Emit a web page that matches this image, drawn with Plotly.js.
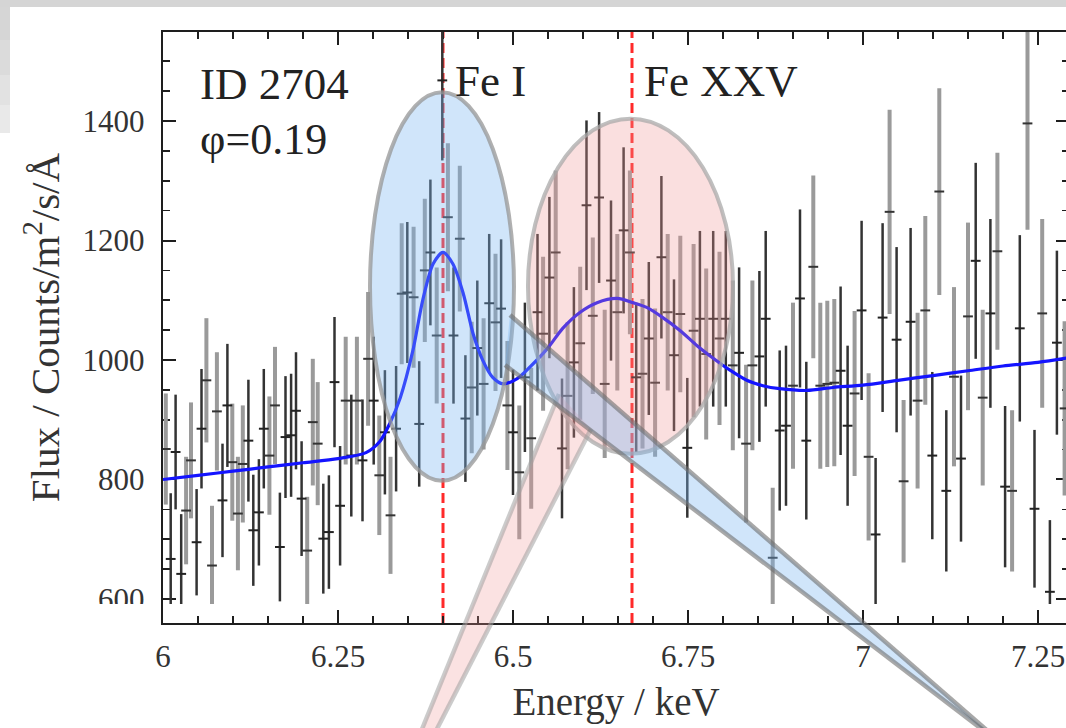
<!DOCTYPE html>
<html>
<head>
<meta charset="utf-8">
<script src="https://cdn.plot.ly/plotly-3.0.1.min.js"></script>
<style>
html,body{margin:0;padding:0;overflow:hidden;background:#fff;}
#chart{width:1070px;height:728px;}
</style>
</head>
<body>
<div id="chart"></div>
<script>
// ---- data ----
// black (thin, dark) error-bar series
const blackEnergy = [6.011,6.018,6.026,6.048,6.055,6.085,6.092,6.122,6.129,6.137,6.144,6.167,6.175,6.183,6.190,6.198,6.229,6.237,6.245,6.253,6.269,6.285,6.301,6.317,6.333,6.349,6.366,6.382,6.399,6.415,6.432,6.449,6.466,6.483,6.500,6.517,6.535,6.552,6.570,6.587,6.605,6.623,6.640,6.658,6.676,6.694,6.712,6.730,6.749,6.767,6.786,6.804,6.823,6.852,6.861,6.881,6.890,6.910,6.919,6.968,6.978,6.998,7.018,7.028,7.048,7.068,7.099,7.119,7.140,7.161,7.182,7.203,7.224,7.245,7.267,7.277];
const blackFlux   = [667,846,642,695,885,765,924,865,715,745,885,687,871,874,915,768,701,712,963,756,840,832,932,879,885,1113,893,1180,1468,1041,902,1020,1095,1086,879,971,1080,1138,852,996,1259,1272,1133,1217,971,1036,1172,1008,853,1069,1069,1069,1012,1006,1069,882,890,1103,865,982,890,1083,708,1071,1034,1064,840,781,835,1166,1078,788,1053,751,612,1029];
const blackErr    = [110,96,100,89,100,95,103,102,93,89,100,91,102,103,98,96,92,95,109,100,102,102,107,104,105,118,105,122,134,114,106,113,116,116,105,125,131,135,117,126,142,143,134,139,125,128,136,127,117,147,147,147,143,143,147,134,134,149,132,141,134,150,128,158,155,157,140,135,139,164,158,135,156,132,120,154];
// grey (thick, light) error-bar series
const greyEnergy = [6.004,6.033,6.040,6.062,6.070,6.077,6.099,6.107,6.114,6.152,6.160,6.206,6.214,6.221,6.261,6.277,6.293,6.309,6.325,6.341,6.358,6.374,6.391,6.407,6.424,6.441,6.458,6.475,6.492,6.509,6.526,6.543,6.561,6.578,6.596,6.614,6.631,6.649,6.667,6.685,6.703,6.721,6.739,6.758,6.776,6.795,6.814,6.833,6.842,6.871,6.900,6.929,6.939,6.949,6.959,6.988,7.008,7.038,7.058,7.078,7.089,7.109,7.130,7.150,7.171,7.192,7.213,7.235,7.256,7.288];
const greyFlux   = [851,748,832,966,656,914,829,743,826,840,924,681,896,860,932,932,1002,807,740,1111,1105,1150,1041,1239,1203,954,960,1063,924,812,869,1044,1180,940,1028,1074,960,1080,1180,977,962,1080,1077,1049,1010,1036,991,860,991,669,957,1156,957,960,962,944,838,1248,797,932,1083,1282,972,1073,937,1182,781,1396,1078,919];
const greyErr    = [93,90,97,104,100,99,98,95,98,99,98,90,106,103,107,107,112,100,98,118,118,120,114,124,122,110,110,115,108,112,118,129,137,123,128,131,124,131,137,125,124,131,131,145,143,145,142,132,142,117,139,153,139,139,140,138,140,171,136,147,158,173,150,157,147,165,135,178,158,146];
// fitted model curve
const modelEnergy = [6.0,6.05,6.1,6.15,6.2,6.25,6.29,6.31,6.324,6.339,6.357,6.371,6.386,6.4,6.414,6.429,6.443,6.457,6.471,6.486,6.506,6.524,6.549,6.571,6.596,6.62,6.649,6.671,6.691,6.714,6.739,6.763,6.786,6.81,6.834,6.857,6.881,6.92,6.957,7.0,7.05,7.1,7.15,7.2,7.25,7.295];
const modelFlux   = [800,807,814,821,828,835,845,864,894,937,1016,1100,1161,1180,1161,1111,1044,999,971,960,969,988,1019,1053,1080,1096,1103,1096,1088,1071,1049,1024,1003,983,966,957,952,949,954,958,966,974,982,990,996,1004];
// line identifications
const lineEnergies = [6.4, 6.67];
const lineLabels   = ["Fe I", "Fe XXV"];
// axis ticks
const xTickVals  = [6, 6.25, 6.5, 6.75, 7, 7.25];
const xTickText  = ["6", "6.25", "6.5", "6.75", "7", "7.25"];
const yTickVals  = [600, 800, 1000, 1200, 1400];
const yTickText  = ["600", "800", "1000", "1200", "1400"];
const infoLines  = ["ID 2704", "φ=0.19"];

// ---- layout geometry ----
const W = 1070, H = 728, ML = 163, MR = 1, MT = 32, MB = 105;
const PW = W - ML - MR, PH = H - MT - MB;
const xRange = [6, 6 + PW / 700];
const yRange = [559.8, 1549];
const clipFrac = (623 - 604) / PH; // data clipped a little above the x axis
const y2Range = [yRange[0] + clipFrac * (yRange[1] - yRange[0]), yRange[1]];
const px = v => (v - ML) / PW;          // pixel -> paper x
const py = v => (H - MB - v) / PH;      // pixel -> paper y
const FONT = "Liberation Serif, Times New Roman, serif";

const traces = [
  {x: greyEnergy, y: greyFlux, xaxis: 'x', yaxis: 'y2', type: 'scatter', mode: 'markers',
   error_y: {type: 'data', array: greyErr, visible: true, color: '#9a9a9a', thickness: 4, width: 0},
   marker: {symbol: 'line-ew', size: 7, color: '#333', line: {width: 2, color: '#333'}},
   hoverinfo: 'skip', showlegend: false},
  {x: blackEnergy, y: blackFlux, xaxis: 'x', yaxis: 'y2', type: 'scatter', mode: 'markers',
   error_y: {type: 'data', array: blackErr, visible: true, color: '#333333', thickness: 2.5, width: 0},
   marker: {symbol: 'line-ew', size: 7, color: '#222', line: {width: 2, color: '#222'}},
   hoverinfo: 'skip', showlegend: false},
  {x: modelEnergy, y: modelFlux, xaxis: 'x', yaxis: 'y2', type: 'scatter', mode: 'lines',
   line: {color: '#1414ff', width: 3.2, shape: 'spline', smoothing: 0.8},
   hoverinfo: 'skip', showlegend: false}
];

const shapes = [];
// page frame (grey band top / left)
shapes.push({type:'rect', xref:'paper', yref:'paper', x0:px(-10), x1:px(W+5), y0:py(7), y1:py(-5), fillcolor:'#d5d5d5', line:{width:0}, layer:'below'});
[['#d6d6d6',7,40],['#dbdbdb',40,75],['#e2e2e2',75,105],['#e9e9e9',105,133]].forEach(s=>{
  shapes.push({type:'rect', xref:'paper', yref:'paper', x0:px(-10), x1:px(10), y0:py(s[2]), y1:py(s[1]), fillcolor:s[0], line:{width:0}, layer:'below'});
});
// vertical line markers
lineEnergies.forEach(e => shapes.push({type:'line', xref:'x', yref:'y domain', x0:e, x1:e, y0:0, y1:1,
  line:{color:'#ff2a2a', width:3, dash:'10px,5px'}, layer:'below'}));
// highlight ellipses and callout wedges
shapes.push({type:'circle', xref:'x', yref:'y', x0:6.5214, x1:6.8143, y0:843, y1:1404,
  fillcolor:'rgba(240,150,150,0.30)', line:{color:'rgba(170,170,170,0.75)', width:4}, layer:'above'});
shapes.push({type:'path', xref:'paper', yref:'paper',
  path:`M ${px(559)} ${py(394)} L ${px(364)} ${py(871)} L ${px(591)} ${py(429)} Z`,
  fillcolor:'rgba(240,150,150,0.28)', line:{width:0}, layer:'above'});
shapes.push({type:'line', xref:'paper', yref:'paper', x0:px(559), y0:py(394), x1:px(364), y1:py(871), line:{color:'rgba(160,160,160,0.55)', width:4.5}, layer:'above'});
shapes.push({type:'line', xref:'paper', yref:'paper', x0:px(591), y0:py(429), x1:px(364), y1:py(871), line:{color:'rgba(160,160,160,0.55)', width:4.5}, layer:'above'});
shapes.push({type:'circle', xref:'x', yref:'y', x0:6.2957, x1:6.5014, y0:798, y1:1448,
  fillcolor:'rgba(120,180,240,0.35)', line:{color:'rgba(150,150,150,0.75)', width:4}, layer:'above'});
shapes.push({type:'path', xref:'paper', yref:'paper',
  path:`M ${px(510)} ${py(315)} L ${px(1013)} ${py(753)} L ${px(505)} ${py(365)} Z`,
  fillcolor:'rgba(120,180,240,0.35)', line:{width:0}, layer:'above'});
shapes.push({type:'line', xref:'paper', yref:'paper', x0:px(510), y0:py(315), x1:px(1013), y1:py(753), line:{color:'rgba(110,110,110,0.6)', width:4.5}, layer:'above'});
shapes.push({type:'line', xref:'paper', yref:'paper', x0:px(505), y0:py(365), x1:px(1013), y1:py(753), line:{color:'rgba(110,110,110,0.6)', width:4.5}, layer:'above'});
// white band hiding the lower part of the 600 label (as in the source)
shapes.push({type:'rect', xref:'paper', yref:'paper', x0:px(40), x1:px(159), y0:py(632), y1:py(604), fillcolor:'#ffffff', line:{width:0}, layer:'above'});

const annotations = [
  {xref:'paper', yref:'paper', x:px(198), y:py(84), xanchor:'left', yanchor:'middle', showarrow:false,
   text: infoLines[0], font:{family:FONT, size:45, color:'#222'}},
  {xref:'paper', yref:'paper', x:px(198), y:py(139), xanchor:'left', yanchor:'middle', showarrow:false,
   text: infoLines[1], font:{family:FONT, size:44, color:'#222'}},
];
lineEnergies.forEach((e, i) => annotations.push({xref:'x', yref:'paper', x:e, xshift:10, y:py(81),
  xanchor:'left', yanchor:'middle', showarrow:false, text:lineLabels[i], font:{family:FONT, size:45, color:'#222'}}));

const axisCommon = {showgrid:false, zeroline:false, showline:true, linecolor:'#1e1e1e', linewidth:2.2,
  ticks:'inside', ticklen:13, tickwidth:2, tickcolor:'#1e1e1e', mirror:'ticks',
  tickfont:{family:FONT, size:31, color:'#333'}};

const layout = {
  width: W, height: H, margin:{l:ML, r:MR, t:MT, b:MB, pad:0},
  paper_bgcolor:'#ffffff', plot_bgcolor:'rgba(0,0,0,0)', showlegend:false,
  font:{family:FONT, color:'#333'},
  xaxis: Object.assign({}, axisCommon, {range:xRange, anchor:'y', tickvals:xTickVals, ticktext:xTickText,
    ticklabelstandoff: 5,
    minor:{dtick:0.05, tick0:6, ticks:'inside', ticklen:7, tickwidth:1.6, tickcolor:'#1e1e1e', showgrid:false},
    title:{text:'Energy / keV', font:{family:FONT, size:39, color:'#333'}, standoff:14}}),
  yaxis: Object.assign({}, axisCommon, {range:yRange, domain:[0,1], anchor:'x', tickvals:yTickVals, ticktext:yTickText,
    ticklabelstandoff: 10,
    minor:{dtick:50, tick0:600, ticks:'inside', ticklen:7, tickwidth:1.6, tickcolor:'#1e1e1e', showgrid:false},
    title:{text:'Flux / Counts/m<sup>2</sup>/s/Å', font:{family:FONT, size:41, color:'#333'}, standoff:10}}),
  yaxis2: {range:y2Range, domain:[clipFrac, 1], anchor:'x', visible:false, showgrid:false, zeroline:false},
  shapes: shapes,
  annotations: annotations
};

Plotly.newPlot('chart', traces, layout, {staticPlot:true, displayModeBar:false});
</script>
</body>
</html>
